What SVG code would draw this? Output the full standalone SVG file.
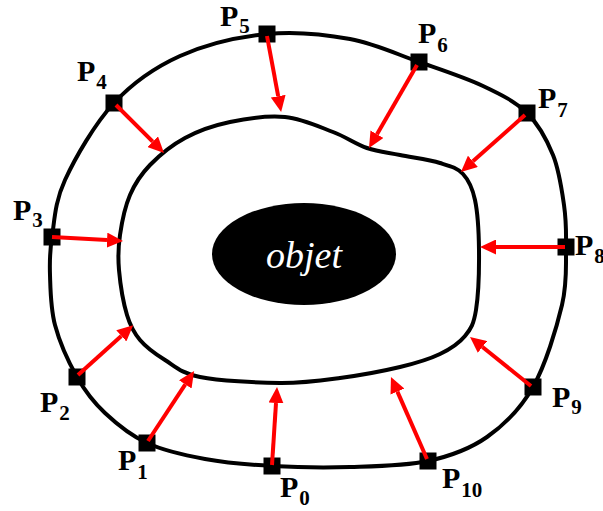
<svg xmlns="http://www.w3.org/2000/svg" width="603" height="511" viewBox="0 0 603 511">
<style>
.curve{fill:none;stroke:#000;stroke-width:4}
.sq{fill:#000}
.lbl{font-family:"Liberation Serif","Times New Roman",serif;font-weight:bold;font-size:30px;fill:#000}
.sub{font-size:21px}
.arr{stroke:#ff0000;stroke-width:4;fill:none;marker-end:url(#ah)}
</style>
<defs>
<marker id="ah" markerUnits="userSpaceOnUse" markerWidth="16" markerHeight="15" viewBox="0 0 16 15" refX="0" refY="7.5" orient="auto">
<path d="M0,0 L16,7.5 L0,15 z" fill="#ff0000"/>
</marker>
</defs>
<rect width="603" height="511" fill="#fff"/>
<g id="outer">
<path class="curve" d="M267,34 C295.3,31.2 324.7,34.3 350,39 C375.3,43.7 396.8,54.2 419,62 C441.2,69.8 465,77.5 483,86 C501,94.5 515.3,101.5 527,113 C538.7,124.5 546.8,139.7 553,155 C559.2,170.3 561.8,189.7 564,205 C566.2,220.3 566.3,230.3 566,247 C565.7,263.7 567.5,281.7 562,305 C556.5,328.3 545.5,365 533,387 C520.5,409 504.5,424.7 487,437 C469.5,449.3 450.8,456 428,461 C405.2,466 376,466.2 350,467 C324,467.8 296.2,467.3 272,466 C247.8,464.7 225.8,462.8 205,459 C184.2,455.2 163.7,450.7 147,443 C130.3,435.3 116.7,424 105,413 C93.3,402 85.3,391.7 77,377 C68.7,362.3 59.5,342 55,325 C50.5,308 50.5,289.7 50,275 C49.5,260.3 49.5,252.8 52,237 C54.5,221.2 54.7,202.3 65,180 C75.3,157.7 94.8,123.7 114,103 C133.2,82.3 154.5,67.5 180,56 C205.5,44.5 238.7,36.8 267,34 Z"/>
</g>
<g id="inner">
<path class="curve" d="M285,117 C302.2,118.7 319.3,126.8 333,132 C346.7,137.2 355.8,144.2 367,148 C378.2,151.8 387.8,152.5 400,155 C412.2,157.5 429.5,159.8 440,163 C450.5,166.2 457.2,167.8 463,174 C468.8,180.2 472.3,187.3 475,200 C477.7,212.7 478.8,231.7 479,250 C479.2,268.3 478.3,295.7 476,310 C473.7,324.3 471,328.7 465,336 C459,343.3 450.8,348.8 440,354 C429.2,359.2 416.7,363 400,367 C383.3,371 360,375.3 340,378 C320,380.7 303.3,383.2 280,383 C256.7,382.8 219.2,380.8 200,377 C180.8,373.2 175,366.2 165,360 C155,353.8 146.3,347.5 140,340 C133.7,332.5 130.5,326.7 127,315 C123.5,303.3 120.2,283.3 119,270 C117.8,256.7 118.2,247.5 120,235 C121.8,222.5 125,206.7 130,195 C135,183.3 140.8,174.5 150,165 C159.2,155.5 171.7,145.2 185,138 C198.3,130.8 213.3,125.5 230,122 C246.7,118.5 267.8,115.3 285,117 Z"/>
</g>
<g id="objet">
<ellipse cx="304" cy="254" rx="92" ry="51" fill="#000"/>
<text x="304" y="268" text-anchor="middle" font-family="'Liberation Serif','Times New Roman',serif" font-style="italic" font-size="38" fill="#fff">objet</text>
</g>
<g id="P0"><rect class="sq" x="263.5" y="457.5" width="17" height="17"/><text class="lbl" x="280" y="497">P<tspan class="sub" dx="1" dy="8">0</tspan></text></g>
<g id="P1"><rect class="sq" x="138.5" y="434.5" width="17" height="17"/><text class="lbl" x="118" y="470">P<tspan class="sub" dx="1" dy="9">1</tspan></text></g>
<g id="P2"><rect class="sq" x="68.5" y="368.5" width="17" height="17"/><text class="lbl" x="40" y="412">P<tspan class="sub" dx="1" dy="8">2</tspan></text></g>
<g id="P3"><rect class="sq" x="43.5" y="228.5" width="17" height="17"/><text class="lbl" x="13" y="220">P<tspan class="sub" dx="1" dy="7">3</tspan></text></g>
<g id="P4"><rect class="sq" x="105.5" y="94.5" width="17" height="17"/><text class="lbl" x="77" y="81">P<tspan class="sub" dx="1" dy="8">4</tspan></text></g>
<g id="P5"><rect class="sq" x="258.5" y="25.5" width="17" height="17"/><text class="lbl" x="220" y="26">P<tspan class="sub" dx="1" dy="7">5</tspan></text></g>
<g id="P6"><rect class="sq" x="410.5" y="53.5" width="17" height="17"/><text class="lbl" x="418" y="43">P<tspan class="sub" dx="1" dy="9">6</tspan></text></g>
<g id="P7"><rect class="sq" x="518.5" y="104.5" width="17" height="17"/><text class="lbl" x="538" y="108">P<tspan class="sub" dx="1" dy="9">7</tspan></text></g>
<g id="P8"><rect class="sq" x="557.5" y="238.5" width="17" height="17"/><text class="lbl" x="575" y="255">P<tspan class="sub" dx="1" dy="8">8</tspan></text></g>
<g id="P9"><rect class="sq" x="524.5" y="378.5" width="17" height="17"/><text class="lbl" x="552" y="407">P<tspan class="sub" dx="1" dy="7">9</tspan></text></g>
<g id="P10"><rect class="sq" x="419.5" y="452.5" width="17" height="17"/><text class="lbl" x="442" y="488">P<tspan class="sub" dx="1" dy="9">10</tspan></text></g>
<g id="connectors">
<line class="arr" x1="267" y1="36" x2="278.2" y2="96.2"/>
<line class="arr" x1="116" y1="105" x2="152.7" y2="141.7"/>
<line class="arr" x1="52" y1="237" x2="107" y2="240.1"/>
<line class="arr" x1="417" y1="65" x2="377" y2="134.2"/>
<line class="arr" x1="525" y1="115" x2="472.9" y2="161.3"/>
<line class="arr" x1="565" y1="247" x2="496" y2="247"/>
<line class="arr" x1="78" y1="375" x2="121.3" y2="335.9"/>
<line class="arr" x1="148" y1="441" x2="185.3" y2="384.4"/>
<line class="arr" x1="272" y1="465" x2="276" y2="403"/>
<line class="arr" x1="531" y1="386" x2="482.5" y2="347"/>
<line class="arr" x1="427" y1="459" x2="397.4" y2="391.6"/>
</g>
</svg>
